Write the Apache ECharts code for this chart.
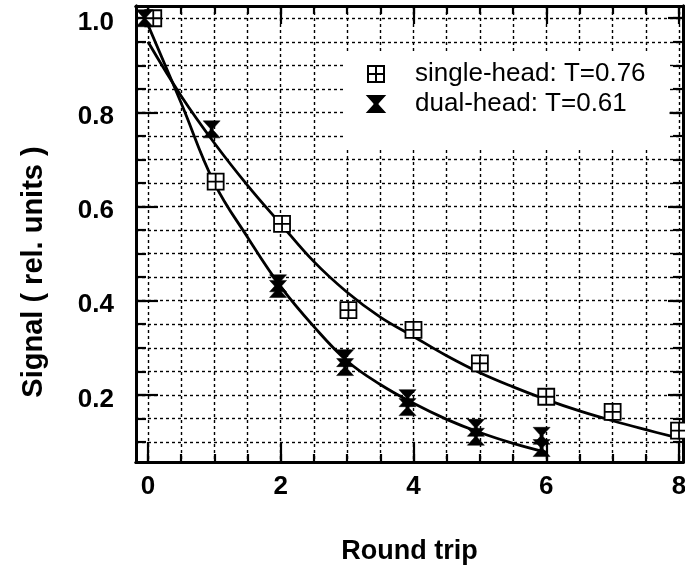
<!DOCTYPE html>
<html>
<head>
<meta charset="utf-8">
<script src="https://cdn.jsdelivr.net/npm/echarts@6/dist/echarts.min.js"></script>
<style>
html,body{margin:0;padding:0;background:#fff;}
#chart{width:685px;height:566px;}
</style>
</head>
<body>
<div id="chart"></div>
<script>
// ---- data ----
var singleX = [0.08, 1.02, 2.02, 3.02, 4.0, 5.0, 6.0, 7.0, 8.0];
var singleY = [1.0, 0.653, 0.563, 0.38, 0.338, 0.267, 0.196, 0.164, 0.124];
var dualX = [-0.05, 0.96, 1.96, 1.96, 2.97, 2.97, 3.91, 3.91, 4.94, 4.94, 5.93, 5.93];
var dualY = [1.0, 0.764, 0.437, 0.425, 0.278, 0.259, 0.193, 0.174, 0.130, 0.111, 0.113, 0.087];
var singleFitX = [0, 0.5, 1, 1.5, 2, 2.5, 3, 3.5, 4, 4.5, 5, 5.5, 6, 6.5, 7, 7.5, 8];
var singleFitY = [0.95, 0.835, 0.735, 0.645, 0.563, 0.483, 0.418, 0.365, 0.324, 0.283, 0.247, 0.217, 0.19, 0.166, 0.145, 0.126, 0.108];
var dualFitX = [0, 0.5, 1, 1.5, 2, 2.5, 3, 3.5, 4, 4.5, 5, 5.5, 6];
var dualFitY = [0.986, 0.82, 0.65, 0.535, 0.43, 0.345, 0.272, 0.222, 0.182, 0.148, 0.12, 0.097, 0.078];
var xTickLabels = [0, 2, 4, 6, 8];
var yTickLabels = [0.2, 0.4, 0.6, 0.8, 1.0];
var seriesNames = ['single-head: T=0.76', 'dual-head: T=0.61'];

function zip(a, b) { return a.map(function (v, i) { return [v, b[i]]; }); }
function steps(from, to, step) {
  var out = [];
  for (var v = from; v <= to + 1e-9; v += step) out.push(Math.round(v * 1000) / 1000);
  return out;
}
var xMinor = steps(0, 8, 0.5);
var yMinor = steps(0.1, 1.0, 0.05);

var FONT = "'Liberation Sans', Arial, Helvetica, sans-serif";
var XMIN = -0.18, XMAX = 8.06, YMIN = 0.0574, YMAX = 1.026;

var squareCross = 'path://M0,0H10V10H0Z M5,0V10 M0,5H10';
var hourglass = 'path://M0,0H10L6,4.4V5.6L10,10H0L4,5.6V4.4Z';

function xAx(pos, ticks, len, extra) {
  var a = {
    type: 'value', position: pos, min: XMIN, max: XMAX,
    axisLine: { show: true, onZero: false, lineStyle: { color: '#000', width: 3 } },
    axisTick: { show: true, inside: true, length: len, customValues: ticks, lineStyle: { color: '#000', width: 2.2 } },
    axisLabel: { show: false },
    splitLine: { show: false }
  };
  return Object.assign(a, extra || {});
}
function yAx(pos, ticks, len, extra) {
  var a = {
    type: 'value', position: pos, min: YMIN, max: YMAX,
    axisLine: { show: true, onZero: false, lineStyle: { color: '#000', width: 3 } },
    axisTick: { show: true, inside: true, length: len, customValues: ticks, lineStyle: { color: '#000', width: 2.2 } },
    axisLabel: { show: false },
    splitLine: { show: false }
  };
  return Object.assign(a, extra || {});
}
var dashed = { show: true, lineStyle: { color: '#000', width: 1.4, type: [3, 3] } };

var option = {
  animation: false,
  backgroundColor: '#fff',
  grid: { left: 136, right: 2, top: 6, bottom: 104, containLabel: false, outerBoundsMode: 'none' },
  xAxis: [
    xAx('bottom', xMinor, 8, { splitLine: dashed }),
    xAx('bottom', xTickLabels, 20, {
      axisLabel: { show: true, customValues: xTickLabels, margin: 12, color: '#000',
        fontFamily: FONT, fontWeight: 'bold', fontSize: 26, formatter: function (v) { return String(v); } },
      name: 'Round trip', nameLocation: 'middle', nameGap: 76,
      nameTextStyle: { color: '#000', fontFamily: FONT, fontWeight: 'bold', fontSize: 27 }
    }),
    xAx('top', xMinor, 8),
    xAx('top', xTickLabels, 18)
  ],
  yAxis: [
    yAx('left', yMinor, 10, { splitLine: dashed }),
    yAx('left', yTickLabels, 22, {
      axisLabel: { show: true, customValues: yTickLabels, margin: 22, color: '#000',
        verticalAlign: 'top', lineHeight: 9,
        fontFamily: FONT, fontWeight: 'bold', fontSize: 26, formatter: function (v) { return v.toFixed(1); } },
      name: 'Signal ( rel. units )', nameLocation: 'middle', nameGap: 88, nameRotate: 90,
      nameTextStyle: { color: '#000', fontFamily: FONT, fontWeight: 'bold', fontSize: 29, padding: [0, 76, 0, 0] }
    }),
    yAx('right', yMinor, 10),
    yAx('right', yTickLabels, 15)
  ],
  legend: {
    data: seriesNames,
    orient: 'vertical',
    left: 343, top: 54,
    backgroundColor: '#fff',
    padding: [7, 24, 31, 24],
    itemGap: 4,
    itemWidth: 16, itemHeight: 16,
    textStyle: { color: '#000', fontFamily: FONT, fontSize: 26, padding: [0, 0, 0, 26] },
    selectedMode: false
  },
  series: [
    {
      name: 'single-fit', type: 'line', xAxisIndex: 0, yAxisIndex: 0,
      data: zip(singleFitX, singleFitY), smooth: 0.4, showSymbol: false, symbol: 'none',
      lineStyle: { color: '#000', width: 2.8 }, silent: true, z: 3
    },
    {
      name: 'dual-fit', type: 'line', xAxisIndex: 0, yAxisIndex: 0,
      data: zip(dualFitX, dualFitY), smooth: 0.4, showSymbol: false, symbol: 'none',
      lineStyle: { color: '#000', width: 2.8 }, silent: true, z: 3
    },
    {
      name: seriesNames[0], type: 'scatter', xAxisIndex: 0, yAxisIndex: 0,
      data: zip(singleX, singleY), symbol: squareCross, symbolSize: 16, clip: false,
      itemStyle: { color: '#fff', borderColor: '#000', borderWidth: 1.8, opacity: 1 }, z: 5
    },
    {
      name: seriesNames[1], type: 'scatter', xAxisIndex: 0, yAxisIndex: 0,
      data: zip(dualX, dualY), symbol: hourglass, symbolSize: 17, clip: false,
      itemStyle: { color: '#000', borderColor: '#000', borderWidth: 0.5, opacity: 1 }, z: 5
    }
  ]
};

var chart = echarts.init(document.getElementById('chart'), null, { renderer: 'canvas' });
chart.setOption(option);
</script>
</body>
</html>
